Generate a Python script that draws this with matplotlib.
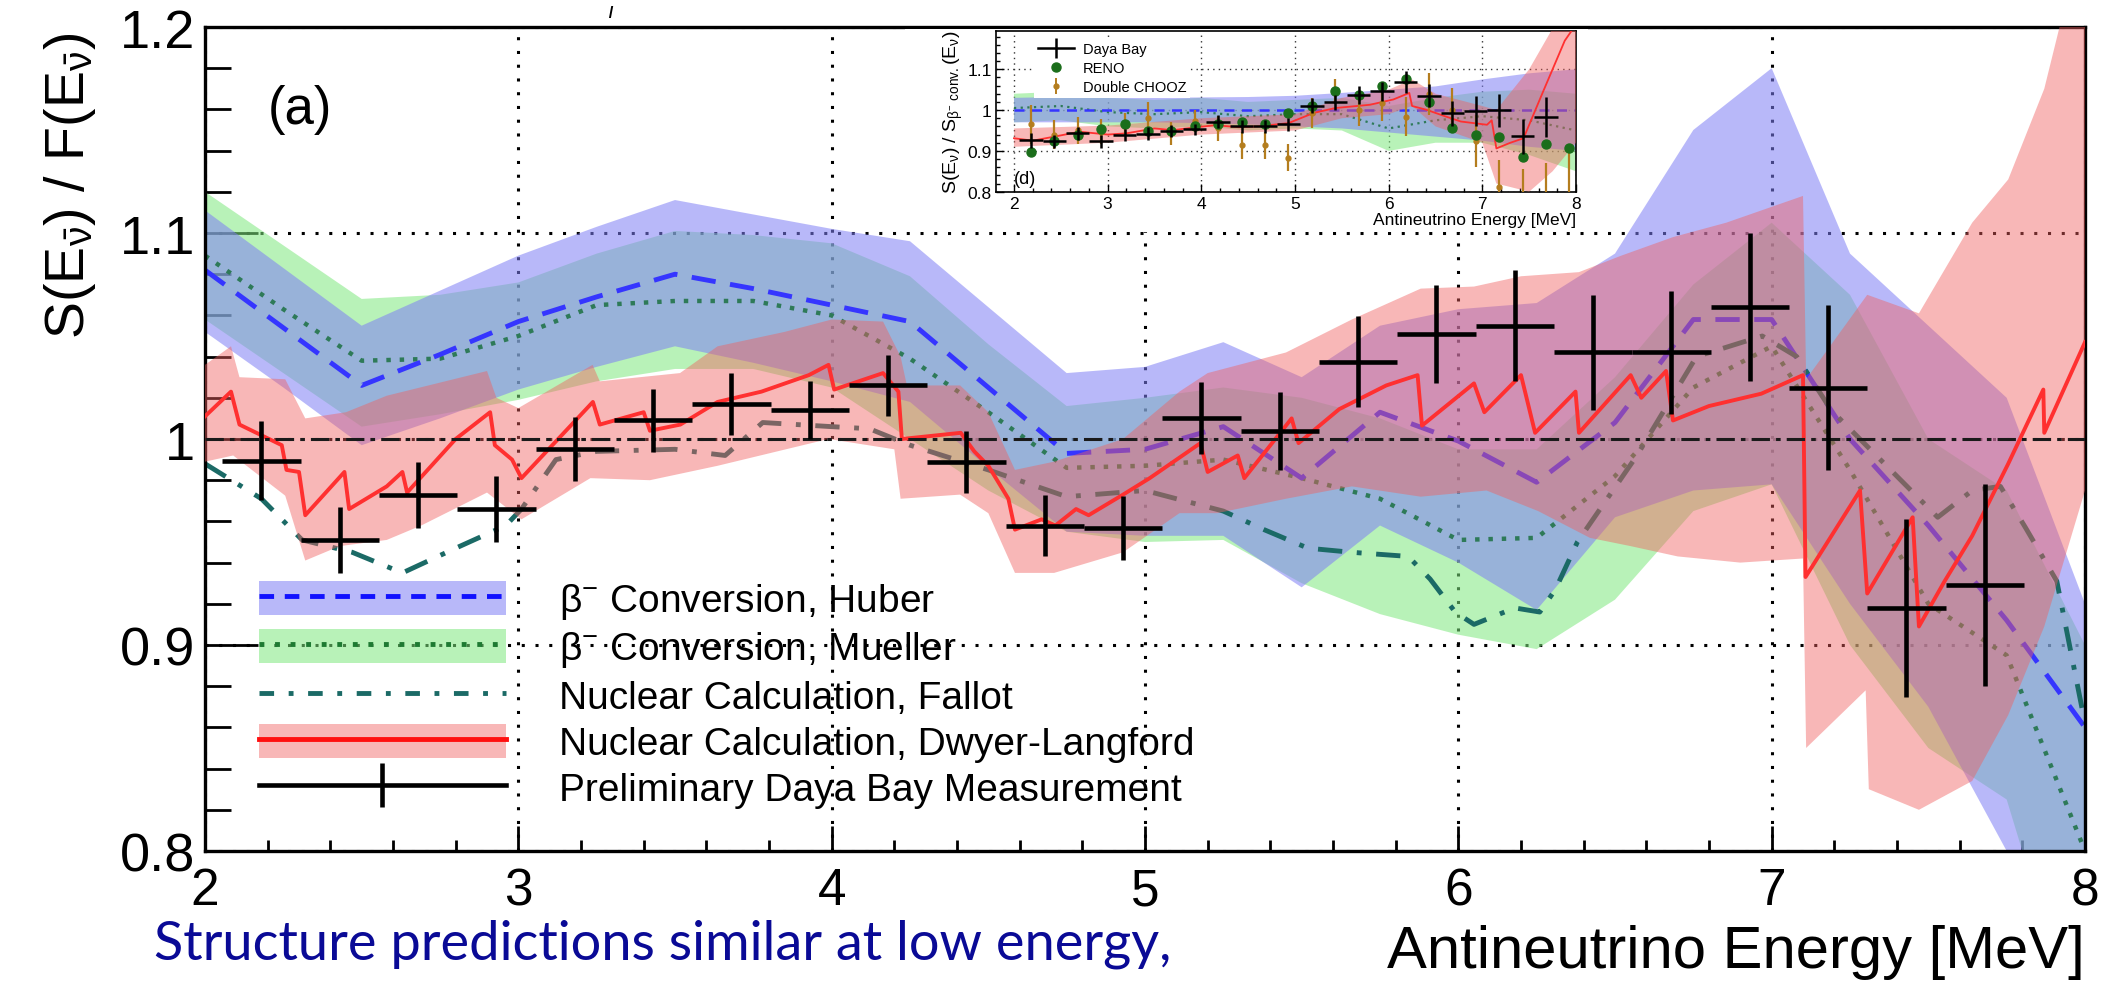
import numpy as np
import matplotlib
matplotlib.use("Agg")
from matplotlib import pyplot as plt
from matplotlib.patches import Patch
from matplotlib.lines import Line2D
from matplotlib.legend_handler import HandlerTuple
from matplotlib.ticker import MultipleLocator

plt.rcParams['font.family'] = ['Liberation Sans', 'DejaVu Sans']
plt.rcParams['mathtext.fontset'] = 'custom'
plt.rcParams['mathtext.rm'] = 'Liberation Sans'
plt.rcParams['mathtext.it'] = 'Liberation Sans:italic'
plt.rcParams['mathtext.bf'] = 'Liberation Sans:bold'

# ---------------- main panel (a) ----------------
# energy grid of the conversion predictions [MeV]
E_GRID = [2.0, 2.25, 2.5, 2.75, 3.0, 3.25, 3.5, 3.75, 4.0, 4.25, 4.5, 4.75, 5.0,
          5.25, 5.5, 5.75, 6.0, 6.25, 6.5, 6.75, 7.0, 7.25, 7.5, 7.75, 8.0]

HUBER = [1.082, 1.054, 1.026, 1.041, 1.057, 1.069, 1.080, 1.073, 1.065, 1.057, 1.025, 0.993, 0.995,
         1.006, 0.981, 1.013, 0.999, 0.979, 1.008, 1.058, 1.058, 1.000, 0.958, 0.912, 0.860]
HUBER_HI = [1.111, 1.083, 1.055, 1.072, 1.089, 1.103, 1.116, 1.109, 1.102, 1.096, 1.064, 1.032, 1.035,
            1.047, 1.030, 1.055, 1.063, 1.066, 1.090, 1.150, 1.180, 1.090, 1.055, 1.020, 0.920]
HUBER_LO = [1.052, 1.025, 0.997, 1.010, 1.024, 1.035, 1.045, 1.037, 1.028, 1.018, 0.986, 0.955, 0.953,
            0.953, 0.928, 0.958, 0.940, 0.917, 0.962, 0.975, 0.978, 0.920, 0.870, 0.800, 0.750]

MUELLER = [1.089, 1.063, 1.038, 1.039, 1.050, 1.065, 1.067, 1.067, 1.060, 1.039, 1.013, 0.986, 0.987,
           0.990, 0.981, 0.971, 0.951, 0.952, 0.982, 1.025, 1.045, 0.985, 0.920, 0.895, 0.800]
MUELLER_HI = [1.120, 1.094, 1.068, 1.070, 1.076, 1.090, 1.101, 1.099, 1.095, 1.079, 1.046, 1.016, 1.020,
              1.025, 1.020, 1.010, 0.995, 0.995, 1.030, 1.075, 1.105, 1.070, 1.000, 0.975, 0.900]
MUELLER_LO = [1.058, 1.032, 1.006, 1.012, 1.019, 1.028, 1.034, 1.034, 1.025, 1.000, 0.975, 0.955, 0.950,
              0.951, 0.930, 0.915, 0.905, 0.898, 0.922, 0.965, 0.978, 0.900, 0.850, 0.825, 0.700]

FALLOT_E = [2.0, 2.18, 2.31, 2.47, 2.63, 2.8, 2.96, 3.01, 3.12, 3.25, 3.5, 3.66, 3.78, 4.0, 4.12,
            4.25, 4.5, 4.75, 5.0, 5.25, 5.38, 5.52, 5.66, 5.84, 5.91, 5.99, 6.05, 6.18, 6.26, 6.31,
            6.38, 6.57, 6.76, 6.97, 7.08, 7.19, 7.36, 7.53, 7.64, 7.73, 7.81, 7.91, 8.0]
FALLOT = [0.988, 0.971, 0.951, 0.945, 0.935, 0.947, 0.958, 0.966, 0.990, 0.994, 0.995, 0.992, 1.008,
          1.006, 1.005, 0.997, 0.985, 0.972, 0.975, 0.965, 0.956, 0.947, 0.945, 0.943, 0.932, 0.916,
          0.910, 0.918, 0.916, 0.927, 0.950, 0.992, 1.040, 1.050, 1.040, 1.014, 0.988, 0.962, 0.975,
          0.977, 0.957, 0.931, 0.862]

# Dwyer-Langford summation calculation (sawtooth)
DL_E = [2.0, 2.083, 2.11, 2.245, 2.26, 2.3, 2.32, 2.445, 2.46, 2.58, 2.63, 2.645, 2.8, 2.91, 2.925,
        2.98, 3.01, 3.238, 3.26, 3.4, 3.42, 3.517, 3.636, 3.776, 3.927, 3.99, 4.008, 4.164, 4.213,
        4.224, 4.412, 4.455, 4.5, 4.564, 4.585, 4.67, 4.714, 4.78, 4.82, 4.93, 5.015, 5.177, 5.2,
        5.296, 5.317, 5.468, 5.49, 5.62, 5.77, 5.87, 5.884, 6.05, 6.083, 6.2, 6.245, 6.374, 6.385,
        6.55, 6.584, 6.663, 6.685, 6.8, 6.967, 7.1, 7.108, 7.282, 7.305, 7.45, 7.47, 7.552, 7.64,
        7.755, 7.867, 7.87, 8.0]
DL = [1.011, 1.023, 1.007, 0.997, 0.985, 0.984, 0.963, 0.984, 0.966, 0.977, 0.984, 0.974, 1.000,
      1.013, 0.997, 0.990, 0.981, 1.018, 1.007, 1.013, 1.004, 1.007, 1.018, 1.023, 1.031, 1.036,
      1.024, 1.032, 1.023, 1.000, 1.003, 0.994, 0.987, 0.971, 0.956, 0.961, 0.958, 0.966, 0.963,
      0.973, 0.981, 0.998, 0.984, 0.992, 0.981, 1.010, 0.998, 1.0145, 1.026, 1.031, 1.0065, 1.027,
      1.013, 1.031, 1.003, 1.023, 1.003, 1.031, 1.020, 1.033, 1.009, 1.016, 1.022, 1.031, 0.933,
      0.975, 0.925, 0.962, 0.909, 0.931, 0.953, 0.988, 1.024, 1.003, 1.047]
DL_HI_E = [2.0, 2.083, 2.11, 2.256, 2.32, 2.45, 2.58, 2.9, 2.93, 3.0, 3.237, 3.26, 3.516, 3.636,
           3.85, 4.0, 4.164, 4.22, 4.24, 4.41, 4.5, 4.585, 4.71, 4.93, 5.11, 5.2, 5.45, 5.66, 5.88,
           6.05, 6.2, 6.385, 6.52, 6.685, 6.855, 7.1, 7.11, 7.305, 7.47, 7.64, 7.755, 7.87, 8.0]
DL_HI = [1.036, 1.045, 1.030, 1.029, 1.010, 1.013, 1.021, 1.033, 1.020, 1.015, 1.036, 1.028, 1.032,
         1.045, 1.052, 1.058, 1.057, 1.040, 1.026, 1.026, 1.013, 0.985, 0.989, 1.000, 1.023, 1.032,
         1.042, 1.058, 1.073, 1.074, 1.079, 1.081, 1.089, 1.098, 1.105, 1.118, 1.029, 1.070, 1.061,
         1.105, 1.126, 1.170, 1.250]
DL_LO_E = [2.0, 2.09, 2.256, 2.32, 2.43, 2.58, 2.69, 2.9, 3.01, 3.23, 3.42, 3.636, 3.99, 4.2, 4.22,
           4.41, 4.5, 4.585, 4.71, 4.93, 5.11, 5.23, 5.45, 5.66, 5.88, 6.09, 6.255, 6.42, 6.55, 6.7,
           6.9, 7.1, 7.11, 7.3, 7.31, 7.47, 7.64, 7.755, 7.87, 8.0]
DL_LO = [0.989, 0.992, 0.9725, 0.941, 0.948, 0.951, 0.958, 0.974, 0.961, 0.981, 0.980, 0.987, 1.000,
         0.995, 0.971, 0.973, 0.964, 0.935, 0.935, 0.945, 0.964, 0.964, 0.971, 0.977, 0.972, 0.975,
         0.965, 0.952, 0.948, 0.943, 0.940, 0.942, 0.850, 0.878, 0.830, 0.820, 0.834, 0.866, 0.909,
         0.975]

# preliminary Daya Bay measurement
DB_E = [2.18, 2.43, 2.68, 2.93, 3.18, 3.43, 3.68, 3.93, 4.18, 4.43, 4.68, 4.93,
        5.18, 5.43, 5.68, 5.93, 6.18, 6.43, 6.68, 6.93, 7.18, 7.43, 7.68]
DB_XERR = 0.125
DB = [0.9895, 0.951, 0.973, 0.966, 0.995, 1.009, 1.017, 1.014, 1.026, 0.989, 0.958, 0.957,
      1.010, 1.004, 1.0375, 1.051, 1.055, 1.042, 1.042, 1.064, 1.025, 0.918, 0.929]
DB_ERR = [0.019, 0.016, 0.016, 0.016, 0.0155, 0.0155, 0.015, 0.014, 0.015, 0.015, 0.015, 0.0155,
          0.0175, 0.019, 0.022, 0.024, 0.027, 0.028, 0.030, 0.036, 0.040, 0.043, 0.049]

LEGEND_LABELS = ['β$^{-}$ Conversion, Huber', 'β$^{-}$ Conversion, Mueller',
                 'Nuclear Calculation, Fallot', 'Nuclear Calculation, Dwyer-Langford',
                 'Preliminary Daya Bay Measurement']

# ---------------- inset (d): ratio to beta conversion ----------------
IN_E = [2.0, 2.5, 3.0, 3.5, 4.0, 4.5, 5.0, 5.5, 6.0, 6.5, 7.0, 7.5, 8.0]
IN_HUBER = [1.0] * 13
IN_HUBER_HI = [1.030, 1.032, 1.030, 1.030, 1.031, 1.032, 1.035, 1.042, 1.050, 1.058, 1.075, 1.090, 1.100]
IN_HUBER_LO = [0.970, 0.970, 0.970, 0.970, 0.968, 0.965, 0.960, 0.955, 0.945, 0.935, 0.925, 0.910, 0.900]
IN_MUELLER = [1.005, 1.010, 0.995, 0.990, 0.995, 0.985, 0.990, 0.990, 0.955, 0.975, 0.985, 0.975, 0.950]
IN_MUELLER_HI = [1.040, 1.045, 1.030, 1.025, 1.030, 1.020, 1.025, 1.030, 1.010, 1.030, 1.045, 1.050, 1.040]
IN_MUELLER_LO = [0.970, 0.975, 0.960, 0.955, 0.960, 0.950, 0.955, 0.950, 0.900, 0.920, 0.920, 0.890, 0.850]

IN_DL_E = [2.0, 2.2, 2.5, 2.7, 3.0, 3.2, 3.5, 3.7, 3.95, 4.15, 4.4, 4.6, 4.93, 5.2, 5.43, 5.8, 6.05,
           6.22, 6.25, 6.4, 6.6, 6.77, 7.05, 7.1, 7.15, 7.3, 7.44, 7.65, 7.88, 8.0]
IN_DL = [0.931, 0.925, 0.938, 0.947, 0.940, 0.943, 0.955, 0.951, 0.958, 0.963, 0.958, 0.960, 0.968,
         0.993, 1.005, 1.013, 1.026, 1.042, 1.010, 1.001, 0.985, 0.972, 0.964, 0.975, 0.906, 0.920,
         0.931, 1.046, 1.170, 1.210]
IN_DL_BAND_E = [2.0, 3.0, 4.0, 5.0, 5.5, 6.0, 6.25, 6.5, 7.0, 7.15, 7.5, 7.75, 8.0]
IN_DL_HI = [0.955, 0.962, 0.980, 0.990, 1.030, 1.050, 1.075, 1.040, 1.010, 1.000, 1.100, 1.200, 1.300]
IN_DL_LO = [0.910, 0.920, 0.940, 0.950, 0.980, 0.990, 1.010, 0.960, 0.920, 0.820, 0.800, 0.850, 0.920]

IN_DB = [0.926, 0.924, 0.943, 0.924, 0.939, 0.942, 0.949, 0.953, 0.972, 0.960, 0.960, 0.965,
         1.011, 1.019, 1.036, 1.046, 1.069, 1.035, 0.992, 0.998, 0.999, 0.936, 0.982]

RENO_E = [2.18, 2.43, 2.68, 2.93, 3.18, 3.43, 3.68, 3.93, 4.18, 4.43, 4.68, 4.93,
          5.18, 5.43, 5.68, 5.93, 6.18, 6.43, 6.68, 6.93, 7.18, 7.43, 7.68, 7.93]
RENO = [0.897, 0.924, 0.939, 0.954, 0.965, 0.949, 0.949, 0.961, 0.965, 0.972, 0.965, 0.993,
        1.009, 1.046, 1.036, 1.059, 1.077, 1.019, 0.957, 0.939, 0.934, 0.884, 0.916, 0.907]
DC = [0.965, 0.940, 0.951, 0.947, 0.965, 0.980, 0.943, 0.974, 0.955, 0.914, 0.914, 0.883,
      0.993, 1.045, 1.001, 1.017, 0.984, 1.040, 1.000, 0.924, 0.812, 0.770, 0.770, 0.780]
DC_ERR = [0.048, 0.035, 0.033, 0.031, 0.028, 0.040, 0.029, 0.027, 0.031, 0.033, 0.033, 0.033,
          0.037, 0.030, 0.040, 0.044, 0.048, 0.052, 0.055, 0.064, 0.066, 0.085, 0.100, 0.125]

# colours
C_HUBER_BAND = '#7f7ff5'
C_MUELLER_BAND = '#7fe87f'
C_DL_BAND = '#f06060'
C_HUBER = '#3535ff'
C_MUELLER = '#2e7a58'
C_FALLOT = '#1b6a66'
C_DL = '#ff3030'
C_RENO = '#1b6e1b'
C_DC = '#b47d1e'

fig = plt.figure(figsize=(21.03, 9.87), dpi=100)
ax = fig.add_axes([205 / 2103, 1 - 852 / 987, 1880 / 2103, 824 / 987])

ax.fill_between(E_GRID, MUELLER_LO, MUELLER_HI, facecolor=C_MUELLER_BAND, alpha=0.55, lw=0, zorder=1)
ax.fill_between(E_GRID, HUBER_LO, HUBER_HI, facecolor=C_HUBER_BAND, alpha=0.55, lw=0, zorder=1.1)
ax.plot(E_GRID, MUELLER, color=C_MUELLER, ls=(0, (1, 2)), lw=3.2, zorder=2)
ax.plot(E_GRID, HUBER, color=C_HUBER, ls=(0, (5, 3)), lw=3.5, zorder=2.1)
ax.plot(FALLOT_E, FALLOT, color=C_FALLOT, ls=(0, (5, 3, 1, 3)), lw=3.5, zorder=2.2)
# red band drawn as a closed polygon: upper edge out, lower edge back
ax.fill(np.concatenate([DL_HI_E, DL_LO_E[::-1]]), np.concatenate([DL_HI, DL_LO[::-1]]),
        facecolor=C_DL_BAND, alpha=0.45, lw=0, zorder=3)
ax.plot(DL_E, DL, color=C_DL, lw=2.8, zorder=4)
ax.axhline(1.0, color='#1a1a1a', ls=(0, (6, 2, 1.5, 2)), lw=2.2, zorder=4.5)
ax.errorbar(DB_E, DB, xerr=DB_XERR, yerr=DB_ERR, fmt='none', ecolor='k',
            elinewidth=3.3, capsize=0, zorder=6)

ax.set_xlim(2, 8)
ax.set_ylim(0.8, 1.2)
ax.set_xticks([2, 3, 4, 5, 6, 7, 8])
ax.set_yticks([0.8, 0.9, 1.0, 1.1, 1.2])
ax.set_yticklabels(['0.8', '0.9', '1', '1.1', '1.2'])
ax.xaxis.set_minor_locator(MultipleLocator(0.2))
ax.yaxis.set_minor_locator(MultipleLocator(0.02))
ax.tick_params(axis='x', which='major', direction='in', length=18, width=2, labelsize=37, pad=11)
ax.tick_params(axis='x', which='minor', direction='in', length=8, width=2)
ax.tick_params(axis='y', which='major', direction='in', length=38, width=2, labelsize=39, pad=7)
ax.tick_params(axis='y', which='minor', direction='in', length=19, width=2)
ax.tick_params(top=False, right=False, which='both')
for s in ax.spines.values():
    s.set_linewidth(2.4)
ax.set_axisbelow(True)
ax.grid(True, which='major', color='k', ls=(0, (1, 3.5)), lw=2.2)

ax.set_xlabel('Antineutrino Energy [MeV]', fontsize=43, loc='right', labelpad=6)
ax.set_ylabel('S(E$_{\\bar{\\mathrm{ν}}}$) / F(E$_{\\bar{\\mathrm{ν}}}$)', fontsize=40, loc='top')
ax.yaxis.set_label_coords(-0.057, 0.994)
ax.text(0.0335, 0.931, '(a)', transform=ax.transAxes, fontsize=38, va='top', ha='left')

h_huber = (Patch(facecolor=C_HUBER_BAND, alpha=0.55, lw=0),
           Line2D([], [], color='#1010ff', ls=(0, (3, 2.2)), lw=3.5))
h_mueller = (Patch(facecolor=C_MUELLER_BAND, alpha=0.55, lw=0),
             Line2D([], [], color='#1e7a32', ls=(0, (1, 2.2)), lw=3.5))
h_fallot = Line2D([], [], color=C_FALLOT, ls=(0, (3, 3, 1, 3)), lw=3.5)
h_dl = (Patch(facecolor=C_DL_BAND, alpha=0.45, lw=0), Line2D([], [], color='#ff1010', lw=3.5))
h_db = (Line2D([], [], color='k', lw=3.3),
        Line2D([], [], color='k', lw=0, marker='|', markersize=32, markeredgewidth=3.3))
ax.legend([h_huber, h_mueller, h_fallot, h_dl, h_db], LEGEND_LABELS,
          handler_map={tuple: HandlerTuple(ndivide=1, pad=0)},
          loc='upper left', bbox_to_anchor=(0.0286, 0.328), borderaxespad=0, borderpad=0,
          frameon=False, fontsize=28, handlelength=6.35, handleheight=0.98,
          labelspacing=0.2, handletextpad=1.38)

# small cropped glyph at the top edge
fig.text(607 / 2103, 1 - 2 / 987, 'ı', fontsize=16, style='italic', va='top')

# ---------------- inset ----------------
bg = fig.add_axes([905 / 2103, 1 - 233 / 987, 683 / 2103, 203 / 987], zorder=10)
bg.set_facecolor('white')
bg.set_xticks([])
bg.set_yticks([])
for s in bg.spines.values():
    s.set_visible(False)

ins = fig.add_axes([996 / 2103, 1 - 192.7 / 987, 580 / 2103, 161.2 / 987], zorder=11)
ins.fill_between(IN_E, IN_MUELLER_LO, IN_MUELLER_HI, facecolor=C_MUELLER_BAND, alpha=0.55, lw=0, zorder=1)
ins.fill_between(IN_E, IN_HUBER_LO, IN_HUBER_HI, facecolor=C_HUBER_BAND, alpha=0.55, lw=0, zorder=1.1)
ins.plot(IN_E, IN_MUELLER, color=C_MUELLER, ls=(0, (1, 2)), lw=1.6, zorder=2)
ins.plot(IN_E, IN_HUBER, color=C_HUBER, ls=(0, (4, 3)), lw=1.8, zorder=2.1)
ins.fill_between(IN_DL_BAND_E, IN_DL_LO, IN_DL_HI, facecolor=C_DL_BAND, alpha=0.45, lw=0, zorder=3)
ins.plot(IN_DL_E, IN_DL, color=C_DL, lw=1.3, zorder=4)
ins.errorbar(RENO_E, DC, yerr=DC_ERR, fmt='o', color=C_DC, ms=3.5, elinewidth=1.6, capsize=0, zorder=5)
ins.plot(RENO_E, RENO, 'o', color=C_RENO, ms=6.5, zorder=5.5)
ins.errorbar(DB_E, IN_DB, xerr=DB_XERR, yerr=DB_ERR, fmt='none', ecolor='k',
             elinewidth=1.8, capsize=0, zorder=6)

ins.set_xlim(1.808, 8.0)
ins.set_ylim(0.8, 1.195)
ins.set_xticks([2, 3, 4, 5, 6, 7, 8])
ins.set_yticks([0.8, 0.9, 1.0, 1.1])
ins.set_yticklabels(['0.8', '0.9', '1', '1.1'])
ins.xaxis.set_minor_locator(MultipleLocator(0.2))
ins.yaxis.set_minor_locator(MultipleLocator(0.02))
ins.tick_params(which='major', direction='in', length=6, width=1, labelsize=12.5, pad=3)
ins.tick_params(which='minor', direction='in', length=3, width=1)
ins.tick_params(top=False, right=False, which='both')
for s in ins.spines.values():
    s.set_linewidth(1.2)
ins.set_axisbelow(True)
ins.grid(True, which='major', color='#333333', ls=(0, (1, 3)), lw=1.0)
ins.set_xlabel('Antineutrino Energy [MeV]', fontsize=12.5, loc='right', labelpad=1)
ins.set_ylabel('S(E$_\\mathrm{ν}$) / S$_{\\mathrm{β}^{-}\\ \\mathrm{conv.}}$(E$_\\mathrm{ν}$)',
               fontsize=14, labelpad=2)
ins.text(0.031, 0.03, '(d)', transform=ins.transAxes, fontsize=13, va='bottom', ha='left')

ih_db = (Line2D([], [], color='k', lw=1.8),
         Line2D([], [], color='k', lw=0, marker='|', markersize=14, markeredgewidth=1.8))
ih_reno = Line2D([], [], color=C_RENO, lw=0, marker='o', markersize=6.5)
ih_dc = (Line2D([], [], color=C_DC, lw=0, marker='|', markersize=12, markeredgewidth=1.4),
         Line2D([], [], color=C_DC, lw=0, marker='o', markersize=3.5))
leg = ins.legend([ih_db, ih_reno, ih_dc], ['Daya Bay', 'RENO', 'Double CHOOZ'],
                 handler_map={tuple: HandlerTuple(ndivide=1, pad=0)},
                 loc='upper left', bbox_to_anchor=(0.0655, 0.95), borderaxespad=0, borderpad=0.25,
                 fontsize=10.5, handlelength=2.5, labelspacing=0.35, handletextpad=0.6,
                 frameon=True, fancybox=False, edgecolor='none', facecolor='white', framealpha=1)
leg.set_zorder(20)

# caption below the plot
fig.text(154 / 2103, 1 - 960 / 987, 'Structure predictions similar at low energy,',
         fontsize=39, family=['Lato', 'DejaVu Sans'], color='#0a0a96', va='baseline', ha='left')

fig.savefig('out.png', dpi=100)
